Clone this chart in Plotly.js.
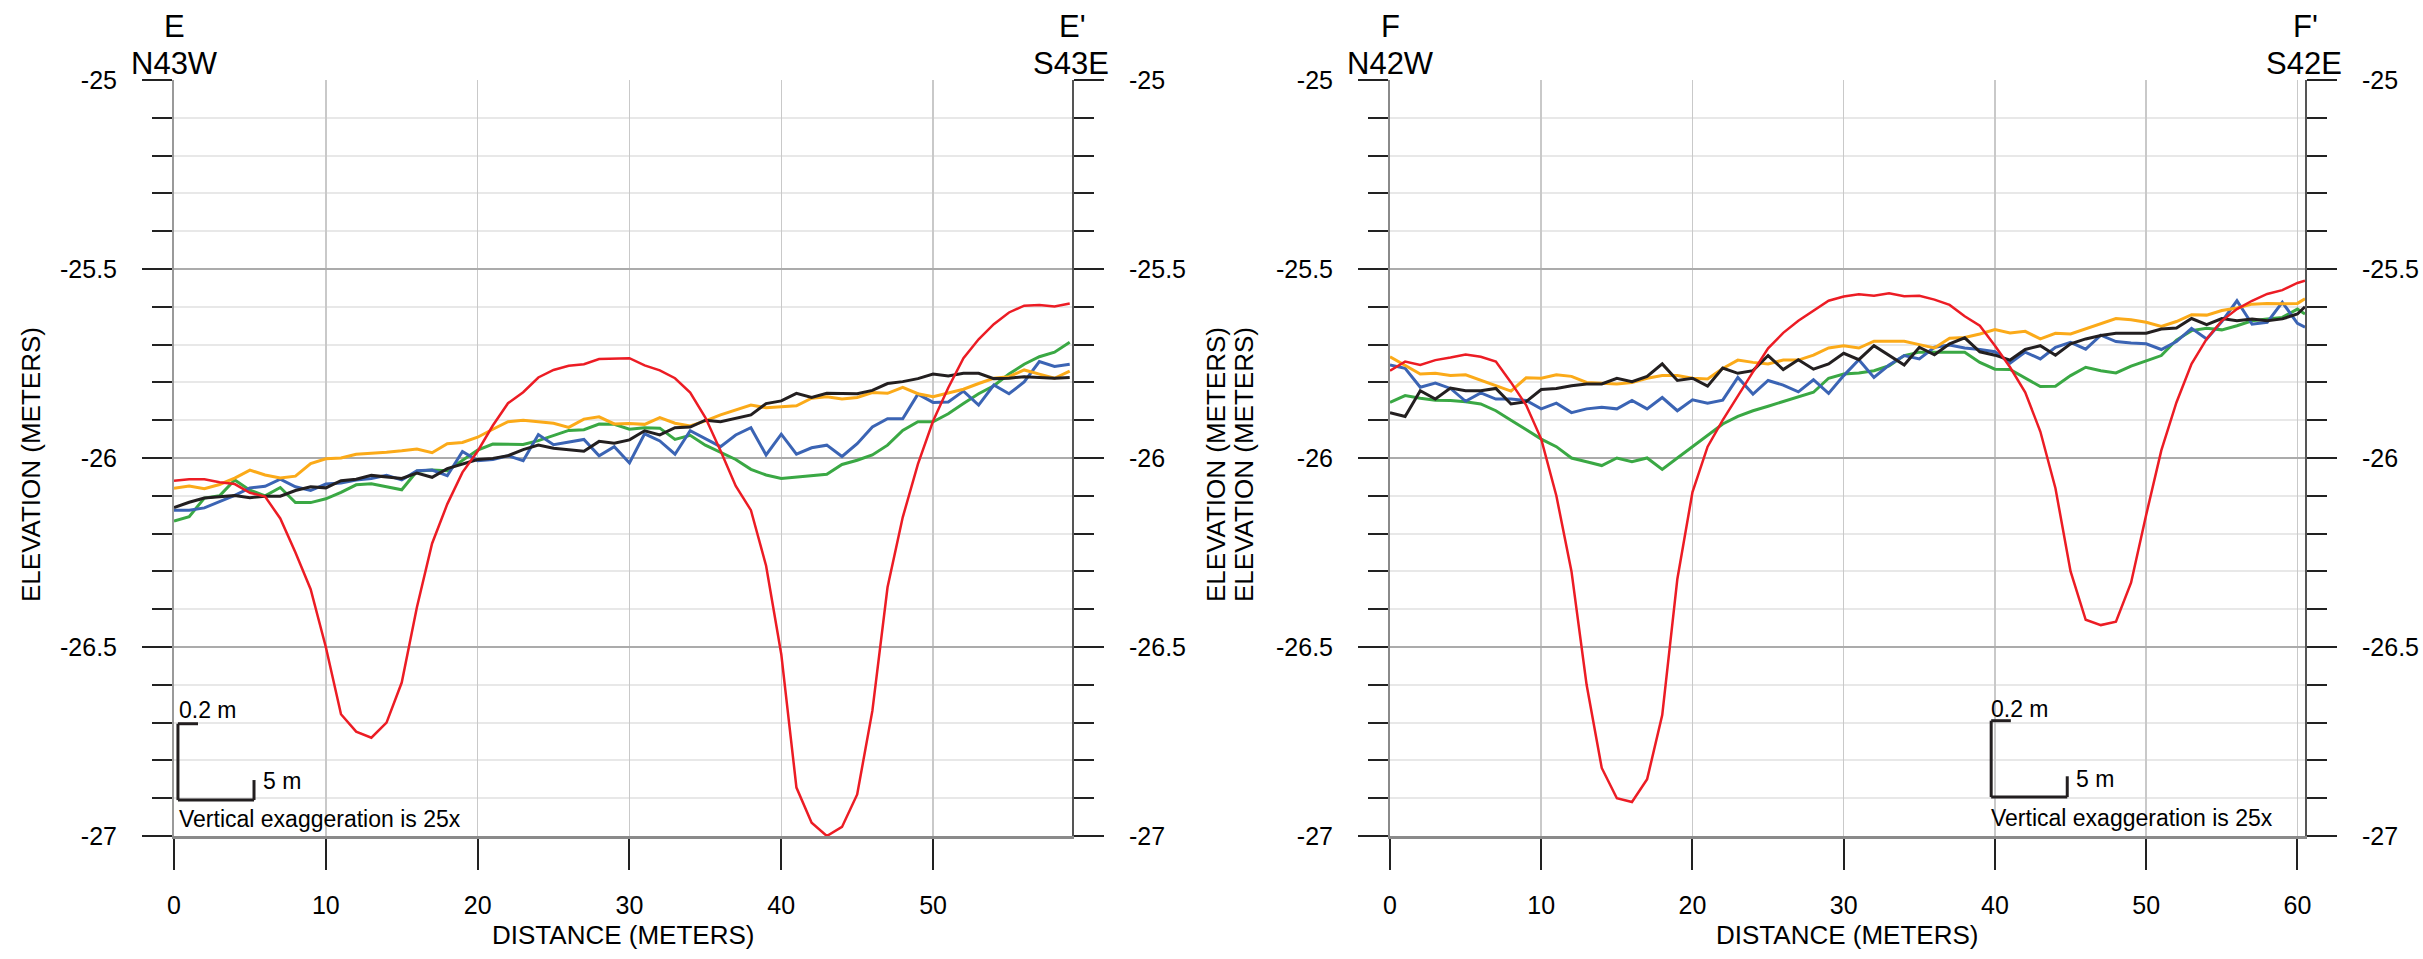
<!DOCTYPE html>
<html><head><meta charset="utf-8">
<script src="https://cdn.plot.ly/plotly-3.0.1.min.js"></script>
<style>html,body{margin:0;padding:0;background:#fff}#chart{width:2423px;height:959px}</style>
</head><body><div id="chart"></div><script>
// ---------- DATA ----------
const distanceE = [0,1,2,3,4,5,6,7,8,9,10,11,12,13,14,15,16,17,18,19,20,21,22,23,24,25,26,27,28,29,30,31,32,33,34,35,36,37,38,39,40,41,42,43,44,45,46,47,48,49,50,51,52,53,54,55,56,57,58,59];
const redE = [-26.06,-26.056,-26.056,-26.064,-26.069,-26.092,-26.102,-26.16,-26.25,-26.347,-26.50,-26.678,-26.724,-26.74,-26.70,-26.594,-26.395,-26.226,-26.122,-26.038,-25.982,-25.914,-25.855,-25.826,-25.787,-25.767,-25.756,-25.752,-25.738,-25.738,-25.736,-25.755,-25.768,-25.789,-25.827,-25.893,-25.981,-26.074,-26.138,-26.285,-26.519,-26.872,-26.965,-27.0,-26.976,-26.89,-26.669,-26.342,-26.157,-26.016,-25.902,-25.814,-25.736,-25.686,-25.646,-25.615,-25.597,-25.595,-25.599,-25.591];
const orangeE = [-26.08,-26.074,-26.081,-26.07,-26.053,-26.032,-26.045,-26.053,-26.048,-26.015,-26.002,-26.0,-25.99,-25.988,-25.985,-25.981,-25.976,-25.986,-25.962,-25.959,-25.945,-25.924,-25.904,-25.9,-25.904,-25.908,-25.919,-25.897,-25.891,-25.91,-25.909,-25.911,-25.893,-25.908,-25.915,-25.902,-25.886,-25.872,-25.86,-25.867,-25.865,-25.862,-25.842,-25.838,-25.844,-25.84,-25.827,-25.829,-25.813,-25.83,-25.838,-25.827,-25.818,-25.803,-25.789,-25.785,-25.767,-25.778,-25.789,-25.77];
const greenE = [-26.167,-26.155,-26.106,-26.1,-26.058,-26.085,-26.1,-26.078,-26.118,-26.118,-26.108,-26.091,-26.071,-26.068,-26.076,-26.084,-26.035,-26.032,-26.034,-26.007,-25.979,-25.963,-25.964,-25.964,-25.954,-25.94,-25.927,-25.925,-25.91,-25.911,-25.924,-25.92,-25.921,-25.951,-25.94,-25.966,-25.986,-26.004,-26.03,-26.045,-26.054,-26.05,-26.047,-26.043,-26.017,-26.006,-25.992,-25.966,-25.927,-25.904,-25.904,-25.883,-25.856,-25.83,-25.809,-25.778,-25.752,-25.732,-25.72,-25.694];
const blueE = [-26.138,-26.138,-26.132,-26.116,-26.099,-26.079,-26.075,-26.056,-26.076,-26.086,-26.069,-26.066,-26.058,-26.054,-26.046,-26.058,-26.034,-26.032,-26.047,-25.983,-26.007,-26.004,-25.994,-26.007,-25.938,-25.965,-25.959,-25.951,-25.994,-25.97,-26.013,-25.936,-25.955,-25.99,-25.928,-25.948,-25.97,-25.939,-25.92,-25.992,-25.937,-25.99,-25.973,-25.966,-25.996,-25.962,-25.918,-25.896,-25.896,-25.831,-25.853,-25.852,-25.823,-25.86,-25.807,-25.83,-25.799,-25.745,-25.758,-25.752];
const blackE = [-26.131,-26.117,-26.106,-26.103,-26.099,-26.105,-26.101,-26.101,-26.086,-26.076,-26.079,-26.06,-26.056,-26.046,-26.05,-26.054,-26.04,-26.051,-26.028,-26.016,-26.004,-26.001,-25.994,-25.978,-25.966,-25.974,-25.978,-25.982,-25.956,-25.961,-25.952,-25.928,-25.939,-25.92,-25.918,-25.9,-25.904,-25.895,-25.886,-25.856,-25.849,-25.829,-25.84,-25.829,-25.83,-25.83,-25.821,-25.803,-25.798,-25.79,-25.778,-25.783,-25.776,-25.776,-25.79,-25.789,-25.785,-25.787,-25.789,-25.787];

const distanceF = [0,1,2,3,4,5,6,7,8,9,10,11,12,13,14,15,16,17,18,19,20,21,22,23,24,25,26,27,28,29,30,31,32,33,34,35,36,37,38,39,40,41,42,43,44,45,46,47,48,49,50,51,52,53,54,55,56,57,58,59,60,60.5];
const redF = [-25.769,-25.745,-25.754,-25.741,-25.734,-25.726,-25.732,-25.745,-25.8,-25.86,-25.95,-26.1,-26.3,-26.6,-26.82,-26.9,-26.91,-26.85,-26.68,-26.32,-26.09,-25.97,-25.9,-25.835,-25.772,-25.71,-25.669,-25.637,-25.61,-25.584,-25.573,-25.567,-25.571,-25.564,-25.572,-25.571,-25.581,-25.595,-25.625,-25.65,-25.703,-25.76,-25.826,-25.93,-26.08,-26.3,-26.428,-26.442,-26.433,-26.33,-26.15,-25.98,-25.853,-25.751,-25.685,-25.637,-25.606,-25.584,-25.566,-25.556,-25.537,-25.531];
const orangeF = [-25.732,-25.756,-25.778,-25.776,-25.782,-25.78,-25.795,-25.809,-25.823,-25.788,-25.789,-25.78,-25.784,-25.8,-25.802,-25.804,-25.8,-25.789,-25.782,-25.782,-25.789,-25.791,-25.763,-25.741,-25.747,-25.751,-25.741,-25.741,-25.728,-25.709,-25.703,-25.709,-25.691,-25.691,-25.691,-25.7,-25.709,-25.683,-25.681,-25.672,-25.66,-25.669,-25.665,-25.685,-25.67,-25.672,-25.659,-25.646,-25.631,-25.634,-25.641,-25.652,-25.639,-25.621,-25.622,-25.61,-25.603,-25.593,-25.591,-25.592,-25.591,-25.579];
const blackF = [-25.88,-25.89,-25.822,-25.844,-25.815,-25.822,-25.822,-25.816,-25.857,-25.851,-25.819,-25.816,-25.809,-25.804,-25.804,-25.789,-25.798,-25.784,-25.751,-25.795,-25.789,-25.81,-25.762,-25.776,-25.769,-25.729,-25.766,-25.74,-25.765,-25.751,-25.723,-25.74,-25.703,-25.728,-25.754,-25.707,-25.727,-25.698,-25.682,-25.719,-25.728,-25.741,-25.713,-25.703,-25.728,-25.698,-25.685,-25.676,-25.67,-25.67,-25.67,-25.659,-25.656,-25.631,-25.647,-25.631,-25.637,-25.632,-25.637,-25.632,-25.619,-25.6];
const blueF = [-25.754,-25.763,-25.813,-25.802,-25.816,-25.85,-25.828,-25.844,-25.844,-25.848,-25.87,-25.855,-25.88,-25.87,-25.866,-25.87,-25.848,-25.87,-25.84,-25.875,-25.846,-25.855,-25.847,-25.787,-25.831,-25.795,-25.807,-25.825,-25.793,-25.829,-25.782,-25.74,-25.787,-25.754,-25.729,-25.738,-25.707,-25.701,-25.709,-25.713,-25.719,-25.749,-25.72,-25.738,-25.707,-25.694,-25.712,-25.675,-25.692,-25.696,-25.698,-25.713,-25.692,-25.657,-25.685,-25.639,-25.584,-25.646,-25.641,-25.588,-25.644,-25.654];
const greenF = [-25.853,-25.835,-25.842,-25.847,-25.848,-25.851,-25.857,-25.875,-25.9,-25.925,-25.95,-25.97,-26.0,-26.01,-26.02,-26.0,-26.01,-26.0,-26.03,-26.0,-25.97,-25.94,-25.91,-25.89,-25.875,-25.863,-25.851,-25.84,-25.826,-25.789,-25.778,-25.775,-25.769,-25.756,-25.729,-25.72,-25.72,-25.72,-25.72,-25.747,-25.765,-25.766,-25.788,-25.811,-25.81,-25.782,-25.76,-25.769,-25.775,-25.757,-25.743,-25.729,-25.688,-25.663,-25.657,-25.661,-25.65,-25.637,-25.632,-25.628,-25.606,-25.619];

const yTickVals = [-25, -25.5, -26, -26.5, -27];
const yTickText = ['-25', '-25.5', '-26', '-26.5', '-27'];
const xTickVals = [0, 10, 20, 30, 40, 50, 60];

// ---------- LAYOUT ----------
const W = 2423, H = 959;
const px = x => x / W;
const py = y => 1 - y / H;
const FONT = 'Liberation Sans, Arial, sans-serif';
const COLORS = {red:'#ec1c24', orange:'#fbaa19', green:'#3aa844', blue:'#3b64b4', black:'#231f20'};

function line(x, y, color, xa, ya, w) {
  return {x: x, y: y, type: 'scatter', mode: 'lines', xaxis: xa, yaxis: ya,
          line: {color: color, width: w || 3}, hoverinfo: 'skip', showlegend: false};
}
const traces = [
  line(distanceE, greenE, COLORS.green, 'x', 'y'),
  line(distanceE, blueE, COLORS.blue, 'x', 'y'),
  line(distanceE, orangeE, COLORS.orange, 'x', 'y'),
  line(distanceE, blackE, COLORS.black, 'x', 'y'),
  line(distanceE, redE, COLORS.red, 'x', 'y', 2.5),
  line(distanceF, greenF, COLORS.green, 'x2', 'y3'),
  line(distanceF, blueF, COLORS.blue, 'x2', 'y3'),
  line(distanceF, orangeF, COLORS.orange, 'x2', 'y3'),
  line(distanceF, blackF, COLORS.black, 'x2', 'y3'),
  line(distanceF, redF, COLORS.red, 'x2', 'y3', 2.5)
];

const yDomain = [py(836), py(80)];
function xAxis(domain, range) {
  return {domain: domain, range: range, tickvals: xTickVals, ticks: 'outside', ticklen: 31,
    tickwidth: 2, tickcolor: '#222', showline: true, linecolor: '#8a8a8a', linewidth: 3,
    showgrid: true, gridcolor: '#c9c9c9', gridwidth: 1.5, zeroline: false,
    tickfont: {size: 25, color: '#000', family: FONT}, ticklabelstandoff: 14, fixedrange: true};
}
function yAxis(anchor, side, overlay, lineColor) {
  const a = {domain: yDomain, range: [-27, -25], anchor: anchor, side: side,
    tickvals: yTickVals, ticktext: yTickText, ticks: 'outside', ticklen: 30, tickwidth: 2, tickcolor: '#222',
    showline: true, linecolor: lineColor, linewidth: 2, zeroline: false,
    showgrid: !overlay, gridcolor: '#ababab', gridwidth: 2,
    minor: {dtick: 0.1, tick0: -25, ticks: 'outside', ticklen: 20, tickwidth: 2, tickcolor: '#222',
            showgrid: !overlay, gridcolor: '#e8e8e8', gridwidth: 2},
    tickfont: {size: 25, color: '#000', family: FONT}, ticklabelstandoff: 20, fixedrange: true};
  if (overlay) a.overlaying = overlay;
  return a;
}

function text(t, x, y, size, xanchor, yanchor, angle) {
  return {text: t, xref: 'paper', yref: 'paper', x: px(x), y: py(y), showarrow: false,
    xanchor: xanchor || 'center', yanchor: yanchor || 'middle', textangle: angle || 0,
    font: {size: size, color: '#000', family: FONT}};
}
const annotations = [
  text('E', 174, 27, 31), text('N43W', 174, 63, 31),
  text("E'", 1072, 27, 31), text('S43E', 1071, 63, 31),
  text('F', 1390, 27, 31), text('N42W', 1390, 63, 31),
  text("F'", 2305, 27, 31), text('S42E', 2304, 63, 31),
  text('DISTANCE (METERS)', 623, 935, 26), text('DISTANCE (METERS)', 1847, 935, 26),
  text('ELEVATION (METERS)', 31, 465, 26, 'center', 'middle', -90),
  text('ELEVATION (METERS)', 1216, 465, 26, 'center', 'middle', -90),
  text('ELEVATION (METERS)', 1244, 465, 26, 'center', 'middle', -90),
  text('0.2 m', 177, 710, 23, 'left'), text('5 m', 261, 781, 23, 'left'),
  text('Vertical exaggeration is 25x', 177, 819, 23, 'left'),
  text('0.2 m', 1989, 709, 23, 'left'), text('5 m', 2074, 779, 23, 'left'),
  text('Vertical exaggeration is 25x', 1989, 818, 23, 'left')
];

function scaleBar(xr, yr, x0, yBot, yTop, xEnd, capEnd, tickTop) {
  const s = {type: 'line', xref: xr, yref: yr, line: {color: '#231f20', width: 3}};
  return [
    Object.assign({}, s, {x0: x0, x1: x0, y0: yBot, y1: yTop}),
    Object.assign({}, s, {x0: x0, x1: capEnd, y0: yTop, y1: yTop}),
    Object.assign({}, s, {x0: x0, x1: xEnd, y0: yBot, y1: yBot}),
    Object.assign({}, s, {x0: xEnd, x1: xEnd, y0: yBot, y1: tickTop})
  ];
}
const shapes = [].concat(
  scaleBar('x', 'y', 0.26, -26.905, -26.703, 5.27, 1.58, -26.852),
  scaleBar('x2', 'y3', 39.75, -26.897, -26.695, 44.78, 41.05, -26.842)
);

const layout = {
  width: W, height: H, margin: {l: 0, r: 0, t: 0, b: 0},
  paper_bgcolor: '#fff', plot_bgcolor: 'rgba(0,0,0,0)',
  font: {family: FONT, color: '#000'}, showlegend: false,
  xaxis: xAxis([px(174), px(1072)], [0, 59.15]),
  xaxis2: xAxis([px(1390), px(2305)], [0, 60.5]),
  yaxis: yAxis('x', 'left', null, '#9a9a9a'),
  yaxis2: yAxis('x', 'right', 'y', '#555'),
  yaxis3: yAxis('x2', 'left', null, '#8a8a8a'),
  yaxis4: yAxis('x2', 'right', 'y3', '#555'),
  annotations: annotations, shapes: shapes
};
traces.push({x: [null], y: [null], xaxis: 'x', yaxis: 'y2', type: 'scatter', showlegend: false, hoverinfo: 'skip'});
traces.push({x: [null], y: [null], xaxis: 'x2', yaxis: 'y4', type: 'scatter', showlegend: false, hoverinfo: 'skip'});
Plotly.newPlot('chart', traces, layout, {displayModeBar: false, staticPlot: true});
</script></body></html>
